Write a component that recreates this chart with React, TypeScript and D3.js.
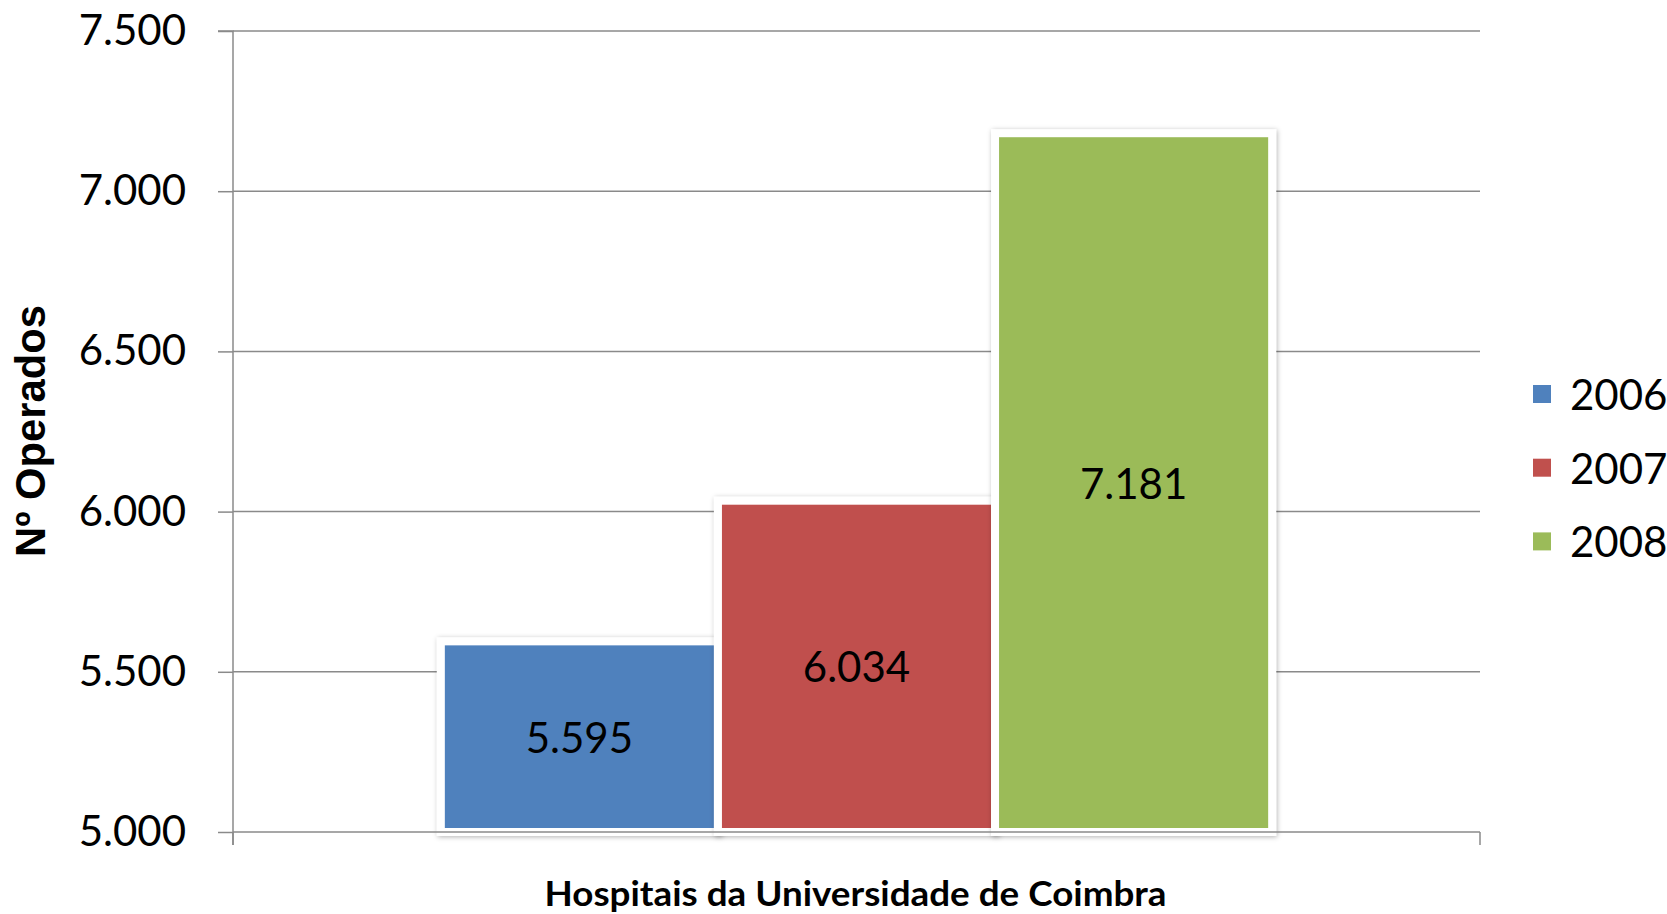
import React, { useEffect, useRef } from "react";
import * as d3 from "d3";

const categories = ["Hospitais da Universidade de Coimbra"];
const years = ["2006", "2007", "2008"];
const values2006 = [5595];
const values2007 = [6034];
const values2008 = [7181];
const yTicks = [5000, 5500, 6000, 6500, 7000, 7500];
const colors = ["#4F81BD", "#C0504D", "#9BBB59"];
const yTitle = "Nº Operados";

const W = 1667;
const H = 914;
const FONT = "Lato, 'Open Sans', sans-serif";

export default function App() {
  const ref = useRef<SVGSVGElement | null>(null);

  useEffect(() => {
    const svg = d3.select(ref.current);
    svg.selectAll("*").remove();

    const left = 233, right = 1480, top = 31, bottom = 832;
    const y = d3.scaleLinear().domain([5000, 7500]).range([bottom, top]);
    const x0 = d3.scaleBand<string>().domain(categories).range([left, right]).paddingInner(0).paddingOuter(0.25);
    const x1 = d3.scaleBand<string>().domain(years).range([0, x0.bandwidth()]).padding(0);
    const series = [values2006, values2007, values2008];
    const locale = d3.formatLocale({ decimal: ",", thousands: ".", grouping: [3], currency: ["", "€"] });
    const fmt = locale.format(",.0f");

    const defs = svg.append("defs");
    const f = defs.append("filter").attr("id", "shadow").attr("x", "-10%").attr("y", "-10%").attr("width", "120%").attr("height", "120%");
    f.append("feDropShadow").attr("dx", 1).attr("dy", 1).attr("stdDeviation", 2.5).attr("flood-color", "#000").attr("flood-opacity", 0.3);

    // gridlines
    svg.append("g").selectAll("line").data(yTicks.filter((t) => t !== 5000)).join("line")
      .attr("x1", left).attr("x2", right)
      .attr("y1", (d) => y(d)).attr("y2", (d) => y(d))
      .attr("stroke", "#8a8a8a").attr("stroke-width", 1.5);

    // bars
    const rows: { cat: string; year: string; v: number; i: number }[] = [];
    categories.forEach((cat, ci) => {
      years.forEach((yr, i) => rows.push({ cat, year: yr, v: series[i][ci], i }));
    });
    const gb = svg.append("g");
    gb.selectAll("rect").data(rows).join("rect")
      .attr("x", (d) => (x0(d.cat) as number) + (x1(d.year) as number))
      .attr("width", x1.bandwidth())
      .attr("y", (d) => y(d.v))
      .attr("height", (d) => y(5000) - y(d.v))
      .attr("fill", (d) => colors[d.i])
      .attr("stroke", "#fff").attr("stroke-width", 8)
      .attr("filter", "url(#shadow)");

    // y axis
    const yAxis = d3.axisLeft(y).tickValues(yTicks).tickSize(15).tickPadding(32).tickFormat((d) => fmt(d as number));
    const ga = svg.append("g").attr("transform", `translate(${left},0)`).call(yAxis);
    ga.select(".domain").attr("stroke", "#8a8a8a").attr("stroke-width", 1.5).attr("d", `M-15,${top}H0V${bottom + 13}`);
    ga.selectAll(".tick line").attr("stroke", "#8a8a8a").attr("stroke-width", 1.5);
    ga.selectAll(".tick text").attr("font-family", FONT).attr("font-size", 42).attr("fill", "#000");

    // x axis
    const xAxisLine = svg.append("g");
    xAxisLine.append("line").attr("x1", left).attr("x2", right).attr("y1", bottom).attr("y2", bottom)
      .attr("stroke", "#8a8a8a").attr("stroke-width", 1.5);
    xAxisLine.selectAll("line.tk").data(x0.range()).join("line").attr("class", "tk")
      .attr("x1", (d) => d).attr("x2", (d) => d).attr("y1", bottom).attr("y2", bottom + 13)
      .attr("stroke", "#8a8a8a").attr("stroke-width", 1.5);

    // data labels
    svg.append("g").selectAll("text").data(rows).join("text")
      .attr("x", (d) => (x0(d.cat) as number) + (x1(d.year) as number) + x1.bandwidth() / 2)
      .attr("y", (d) => (y(d.v) + y(5000)) / 2)
      .attr("text-anchor", "middle").attr("dominant-baseline", "central")
      .attr("font-family", FONT).attr("font-size", 42).attr("fill", "#000")
      .text((d) => fmt(d.v));

    // category label
    svg.append("g").selectAll("text").data(categories).join("text")
      .attr("x", (d) => (x0(d) as number) + x0.bandwidth() / 2 - 1)
      .attr("y", 906)
      .attr("text-anchor", "middle")
      .attr("textLength", 622).attr("lengthAdjust", "spacingAndGlyphs")
      .attr("font-family", FONT).attr("font-weight", "bold").attr("font-size", 34).attr("fill", "#000")
      .text((d) => d);

    // y title
    svg.append("text")
      .attr("transform", `translate(45,431) rotate(-90)`)
      .attr("x", 0).attr("y", 0)
      .attr("text-anchor", "middle")
      .attr("textLength", 252).attr("lengthAdjust", "spacingAndGlyphs")
      .attr("font-family", "'Liberation Sans', Arial, sans-serif").attr("font-weight", "bold").attr("font-size", 42).attr("fill", "#000")
      .text(yTitle);

    // legend
    const lg = svg.append("g").selectAll("g").data(years).join("g")
      .attr("transform", (d, i) => `translate(1533,${394 + i * 73.7})`);
    lg.append("rect").attr("x", 0).attr("y", -9).attr("width", 18).attr("height", 18).attr("fill", (d, i) => colors[i]);
    lg.append("text").attr("x", 37).attr("y", 0).attr("dominant-baseline", "central")
      .attr("font-family", FONT).attr("font-size", 42).attr("fill", "#000").text((d) => d);
  }, []);

  return (
    <svg ref={ref} width={W} height={H} style={{ position: "absolute", left: 0, top: 0, background: "#fff" }} />
  );
}
